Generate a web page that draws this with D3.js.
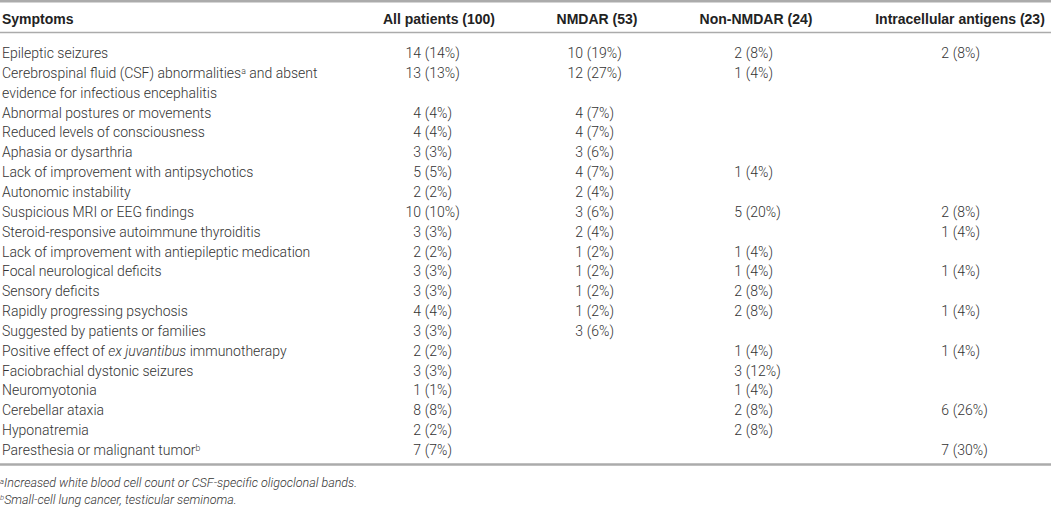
<!DOCTYPE html>
<meta charset="utf-8">
<style>
    body { margin: 0; background: #fff; }
    svg { display: block; }
    .head { font-family: "Liberation Sans", Arial, sans-serif; font-weight: bold; font-size: 14px; fill: #222; }
    .cell { font-family: Roboto, "Liberation Sans", sans-serif; font-weight: 300; font-size: 14px; fill: #333; }
    .note { font-family: Roboto, "Liberation Sans", sans-serif; font-weight: 300; font-style: italic; font-size: 12.5px; fill: #333; }
    .rule { stroke: #ababab; }
</style>
<svg width="1051" height="508"></svg>
<script src="https://d3js.org/d3.v7.min.js"></script>
<script>

    // ^x = superscript, _text_ = italic, \n = second line
    var symptoms = [
        "Epileptic seizures",
        "Cerebrospinal fluid (CSF) abnormalities^a and absent\nevidence for infectious encephalitis",
        "Abnormal postures or movements",
        "Reduced levels of consciousness",
        "Aphasia or dysarthria",
        "Lack of improvement with antipsychotics",
        "Autonomic instability",
        "Suspicious MRI or EEG findings",
        "Steroid-responsive autoimmune thyroiditis",
        "Lack of improvement with antiepileptic medication",
        "Focal neurological deficits",
        "Sensory deficits",
        "Rapidly progressing psychosis",
        "Suggested by patients or families",
        "Positive effect of _ex juvantibus_ immunotherapy",
        "Faciobrachial dystonic seizures",
        "Neuromyotonia",
        "Cerebellar ataxia",
        "Hyponatremia",
        "Paresthesia or malignant tumor^b"
    ];

    var columns = ["All patients (100)", "NMDAR (53)", "Non-NMDAR (24)", "Intracellular antigens (23)"];

    // [count, percent], null = empty cell
    var allPatients = [[14,14],[13,13],[4,4],[4,4],[3,3],[5,5],[2,2],[10,10],[3,3],[2,2],
                       [3,3],[3,3],[4,4],[3,3],[2,2],[3,3],[1,1],[8,8],[2,2],[7,7]];
    var nmdar = [[10,19],[12,27],[4,7],[4,7],[3,6],[4,7],[2,4],[3,6],[2,4],[1,2],
                 [1,2],[1,2],[1,2],[3,6],null,null,null,null,null,null];
    var nonNmdar = [[2,8],[1,4],null,null,null,[1,4],null,[5,20],null,[1,4],
                    [1,4],[2,8],[2,8],null,[1,4],[3,12],[1,4],[2,8],[2,8],null];
    var intracellular = [[2,8],null,null,null,null,null,null,[2,8],[1,4],null,
                         [1,4],null,[1,4],null,[1,4],null,null,[6,26],null,[7,30]];

    var footnotes = [
        "^aIncreased white blood cell count or CSF-specific oligoclonal bands.",
        "^bSmall-cell lung cancer, testicular seminoma."
    ];

    var series = [allPatients, nmdar, nonNmdar, intracellular];

    var svg = d3.select("svg"),
        width = +svg.attr("width");

    // line index of each row (the CSF row takes two lines)
    var lineIdx = [], n = 0;
    symptoms.forEach(function(s) { lineIdx.push(n); n += s.split("\n").length; });

    var y = d3.scaleLinear().domain([0, n - 1]).range([58, 455]);

    // where the count ends / the "(pct%)" starts
    var colX = d3.scaleOrdinal().domain(columns).range([421, 583, 742, 949]);
    var headX = d3.scaleOrdinal().domain(columns).range([439, 597, 756, 960]);

    function rich(sel, str) {
        var parts = str.split(/(\^[a-z]|_[^_]+_)/).filter(function(p) { return p.length; }),
            back = null;
        parts.forEach(function(p) {
            var t = sel.append("tspan");
            if (back) { t.attr("dy", back); back = null; }
            if (p[0] === "^") {
                t.text(p.slice(1)).attr("font-size", "0.62em").attr("dy", "-0.45em");
                back = "0.28em";
            } else if (p[0] === "_") {
                t.text(p.slice(1, -1)).attr("font-style", "italic");
            } else {
                t.text(p);
            }
        });
    }

    // rules
    svg.append("line").attr("class", "rule").attr("x1", 0).attr("x2", width)
        .attr("y1", 1.3).attr("y2", 1.3).attr("stroke-width", 2.6);
    svg.append("line").attr("class", "rule").attr("x1", 0).attr("x2", width)
        .attr("y1", 32.5).attr("y2", 32.5).attr("stroke-width", 1.6);
    svg.append("line").attr("class", "rule").attr("x1", 0).attr("x2", width)
        .attr("y1", 464.5).attr("y2", 464.5).attr("stroke-width", 2.4);

    // header
    svg.append("text").attr("class", "head").attr("x", 2).attr("y", 24).text("Symptoms");
    svg.selectAll(".colhead")
        .data(columns)
        .enter().append("text")
        .attr("class", "head colhead")
        .attr("x", function(d) { return headX(d); })
        .attr("y", 24)
        .attr("text-anchor", "middle")
        .text(function(d) { return d; });

    // symptom labels
    symptoms.forEach(function(s, i) {
        s.split("\n").forEach(function(line, k) {
            var t = svg.append("text").attr("class", "cell")
                .attr("x", 2).attr("y", y(lineIdx[i] + k));
            rich(t, line);
        });
    });

    // value cells
    series.forEach(function(vals, c) {
        var x0 = colX(columns[c]);
        var g = svg.append("g");
        var cells = vals.map(function(v, i) { return {v: v, i: i}; })
            .filter(function(d) { return d.v; });
        g.selectAll(".cnt")
            .data(cells)
            .enter().append("text")
            .attr("class", "cell cnt")
            .attr("x", x0)
            .attr("y", function(d) { return y(lineIdx[d.i]); })
            .attr("text-anchor", "end")
            .text(function(d) { return d.v[0]; });
        g.selectAll(".pct")
            .data(cells)
            .enter().append("text")
            .attr("class", "cell pct")
            .attr("x", x0 + 3.8)
            .attr("y", function(d) { return y(lineIdx[d.i]); })
            .text(function(d) { return "(" + d.v[1] + "%)"; });
    });

    // footnotes
    footnotes.forEach(function(f, i) {
        var t = svg.append("text").attr("class", "note")
            .attr("x", 0).attr("y", 487 + i * 16.5);
        rich(t, f);
    });
</script>
